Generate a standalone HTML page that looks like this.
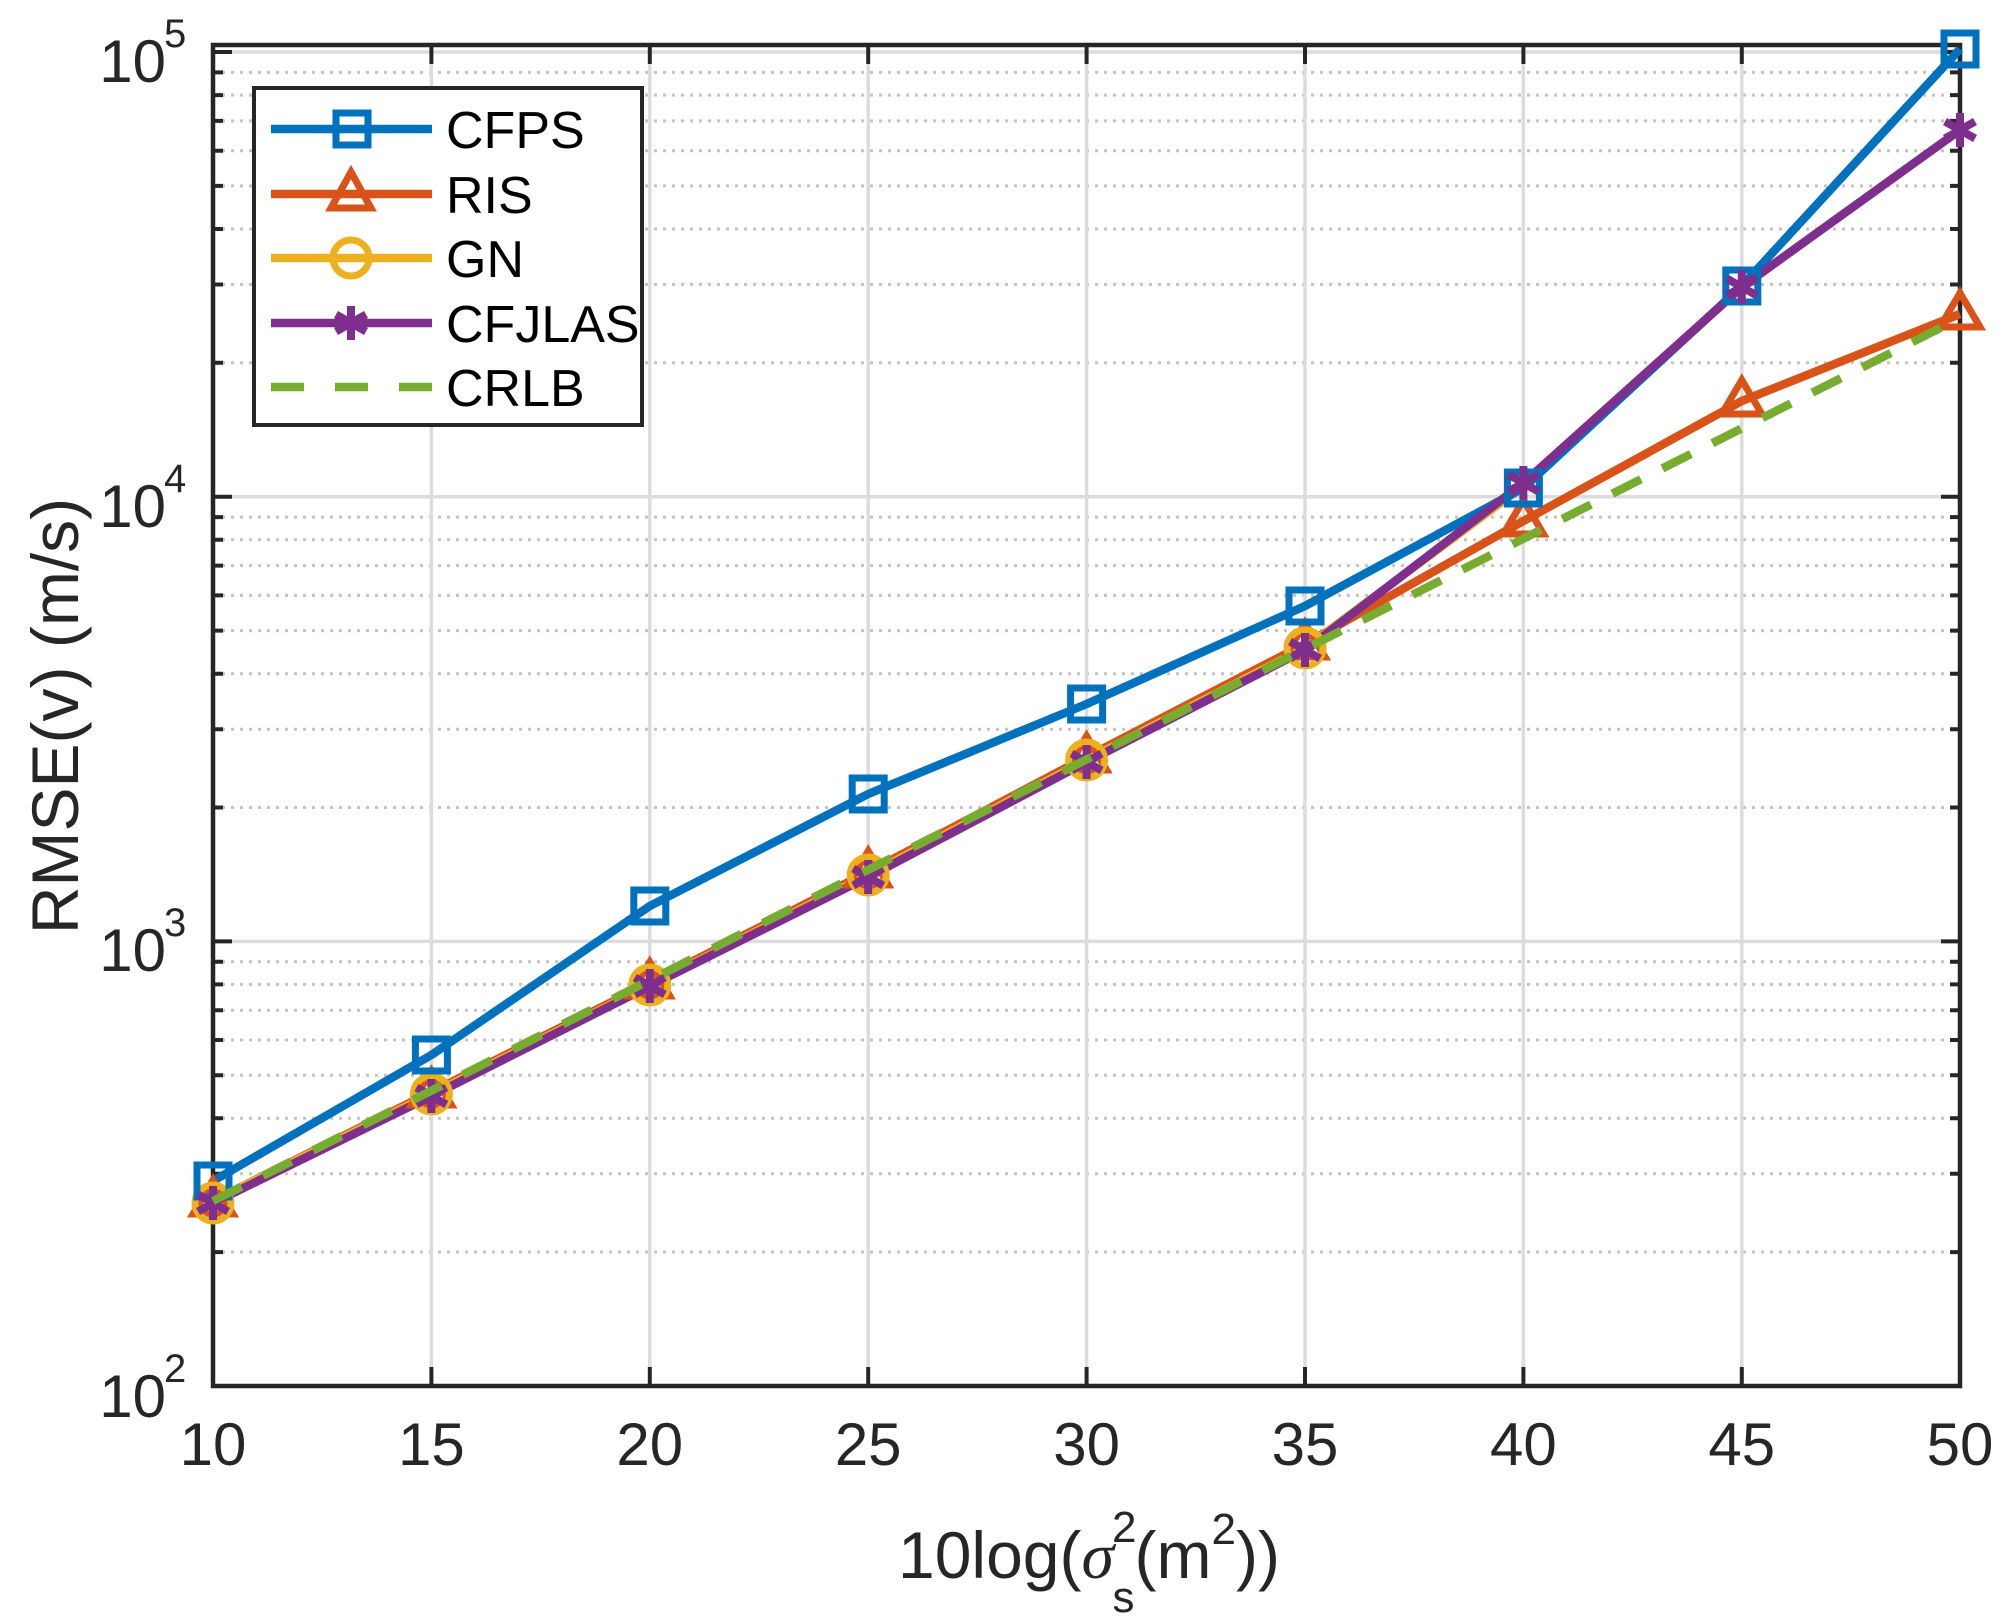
<!DOCTYPE html>
<html><head><meta charset="utf-8"><style>
html,body{margin:0;padding:0;background:#fff;}
svg{display:block;}
text{font-family:"Liberation Sans",Arial,sans-serif;fill:#262626;}
</style></head><body>
<svg width="2012" height="1623" viewBox="0 0 2012 1623" xmlns="http://www.w3.org/2000/svg">
<rect width="2012" height="1623" fill="#fff"/>
<g stroke="#c4c4c4" stroke-width="3" stroke-dasharray="3 6" fill="none">
<path d="M213 362.8H1960M213 284.5H1960M213 229H1960M213 185.9H1960M213 150.7H1960M213 120.9H1960M213 95.1H1960M213 72.4H1960
M213 807.5H1960M213 729.2H1960M213 673.7H1960M213 630.6H1960M213 595.4H1960M213 565.6H1960M213 539.8H1960M213 517.1H1960
M213 1252.1H1960M213 1173.8H1960M213 1118.3H1960M213 1075.2H1960M213 1040H1960M213 1010.2H1960M213 984.4H1960M213 961.7H1960"/>
</g>
<g stroke="#dcdcdc" stroke-width="3.5" fill="none">
<path d="M213 52H1960M213 496.7H1960M213 941.4H1960
M431.4 45V1386M649.8 45V1386M868.2 45V1386M1086.6 45V1386M1305 45V1386M1523.4 45V1386M1741.8 45V1386"/>
</g>
<g stroke="#262626" stroke-width="4" fill="none">
<path d="M213 52h19M213 496.7h19M213 941.4h19M1960 52h-19M1960 496.7h-19M1960 941.4h-19"/>
<path d="M213 362.8h10M213 284.5h10M213 229h10M213 185.9h10M213 150.7h10M213 120.9h10M213 95.1h10M213 72.4h10
M213 807.5h10M213 729.2h10M213 673.7h10M213 630.6h10M213 595.4h10M213 565.6h10M213 539.8h10M213 517.1h10
M213 1252.1h10M213 1173.8h10M213 1118.3h10M213 1075.2h10M213 1040h10M213 1010.2h10M213 984.4h10M213 961.7h10
M1960 362.8h-10M1960 284.5h-10M1960 229h-10M1960 185.9h-10M1960 150.7h-10M1960 120.9h-10M1960 95.1h-10M1960 72.4h-10
M1960 807.5h-10M1960 729.2h-10M1960 673.7h-10M1960 630.6h-10M1960 595.4h-10M1960 565.6h-10M1960 539.8h-10M1960 517.1h-10
M1960 1252.1h-10M1960 1173.8h-10M1960 1118.3h-10M1960 1075.2h-10M1960 1040h-10M1960 1010.2h-10M1960 984.4h-10M1960 961.7h-10"/>
<path d="M431.4 1386v-19M649.8 1386v-19M868.2 1386v-19M1086.6 1386v-19M1305 1386v-19M1523.4 1386v-19M1741.8 1386v-19
M431.4 45v19M649.8 45v19M868.2 45v19M1086.6 45v19M1305 45v19M1523.4 45v19M1741.8 45v19"/>
<rect x="213" y="45" width="1747" height="1341" stroke-width="4.5"/>
</g>
<g fill="none" stroke-width="8.5" stroke-linejoin="round">
<polyline stroke="#D95319" points="213,1201 431.4,1092 649.8,983 868.2,872 1086.6,757 1305,644 1523.4,521 1741.8,401 1960,314"/>
<polyline stroke="#EDB120" points="213,1201 431.4,1094 649.8,985 868.2,875 1086.6,760 1305,648 1523.4,486 1741.8,287 1960,130"/>
<polyline stroke="#0072BD" points="213,1181 431.4,1055 649.8,906 868.2,794 1086.6,704 1305,606 1523.4,488 1741.8,286 1960,49"/>
<polyline stroke="#7E2F8E" points="213,1203 431.4,1096 649.8,986 868.2,877 1086.6,762 1305,650 1523.4,483 1741.8,287 1960,130"/>
</g>
<g fill="none" stroke-width="7">
<g stroke="#D95319">
<path d="M213 1180l20 34h-40zM431.4 1071l20 34h-40zM649.8 962l20 34h-40zM868.2 851l20 34h-40zM1086.6 736l20 34h-40zM1305 623l20 34h-40zM1523.4 500l20 34h-40zM1741.8 380l20 34h-40zM1960 293l20 34h-40z"/>
</g>
<g stroke="#EDB120">
<circle cx="213" cy="1203" r="18"/><circle cx="431.4" cy="1094" r="18"/><circle cx="649.8" cy="985" r="18"/><circle cx="868.2" cy="875" r="18"/><circle cx="1086.6" cy="760" r="18"/><circle cx="1305" cy="648" r="18"/>
</g>
<g stroke="#0072BD">
<rect x="197" y="1165" width="32" height="32"/><rect x="415.4" y="1039" width="32" height="32"/><rect x="633.8" y="890" width="32" height="32"/><rect x="852.2" y="778" width="32" height="32"/><rect x="1070.6" y="688" width="32" height="32"/><rect x="1289" y="590" width="32" height="32"/><rect x="1507.4" y="472" width="32" height="32"/><rect x="1725.8" y="270" width="32" height="32"/><rect x="1944" y="33" width="32" height="32"/>
</g>
<g stroke="#7E2F8E" stroke-width="8">
<path d="M0 -17V17M-15 -8.5L15 8.5M-15 8.5L15 -8.5" transform="translate(213 1203)"/>
<path d="M0 -17V17M-15 -8.5L15 8.5M-15 8.5L15 -8.5" transform="translate(431.4 1096)"/>
<path d="M0 -17V17M-15 -8.5L15 8.5M-15 8.5L15 -8.5" transform="translate(649.8 986)"/>
<path d="M0 -17V17M-15 -8.5L15 8.5M-15 8.5L15 -8.5" transform="translate(868.2 877)"/>
<path d="M0 -17V17M-15 -8.5L15 8.5M-15 8.5L15 -8.5" transform="translate(1086.6 762)"/>
<path d="M0 -17V17M-15 -8.5L15 8.5M-15 8.5L15 -8.5" transform="translate(1305 650)"/>
<path d="M0 -17V17M-15 -8.5L15 8.5M-15 8.5L15 -8.5" transform="translate(1523.4 483)"/>
<path d="M0 -17V17M-15 -8.5L15 8.5M-15 8.5L15 -8.5" transform="translate(1741.8 287)"/>
<path d="M0 -17V17M-15 -8.5L15 8.5M-15 8.5L15 -8.5" transform="translate(1960 130)"/>
</g>
</g>
<line x1="213" y1="1201" x2="1960" y2="318" stroke="#77AC30" stroke-width="8.5" stroke-dasharray="32 24"/>
<rect x="254" y="88" width="388" height="337" fill="#fff" stroke="#262626" stroke-width="4"/>
<g stroke-width="8.5" fill="none">
<line x1="271" y1="129" x2="432" y2="129" stroke="#0072BD"/>
<rect x="336" y="113" width="32" height="32" stroke="#0072BD" stroke-width="7"/>
<line x1="271" y1="194" x2="432" y2="194" stroke="#D95319"/>
<path d="M351 172l20 36h-40z" stroke="#D95319" stroke-width="7"/>
<line x1="271" y1="258" x2="432" y2="258" stroke="#EDB120"/>
<circle cx="351" cy="258" r="18" stroke="#EDB120" stroke-width="7"/>
<line x1="271" y1="323" x2="432" y2="323" stroke="#7E2F8E"/>
<path d="M0 -17V17M-15 -8.5L15 8.5M-15 8.5L15 -8.5" transform="translate(351 323)" stroke="#7E2F8E" stroke-width="8"/>
<line x1="271" y1="387" x2="432" y2="387" stroke="#77AC30" stroke-dasharray="33 31"/>
</g>
<g font-size="52">
<text x="446" y="148" style="fill:#000">CFPS</text>
<text x="446" y="213" style="fill:#000">RIS</text>
<text x="446" y="277" style="fill:#000">GN</text>
<text x="446" y="342" style="fill:#000">CFJLAS</text>
<text x="446" y="406" style="fill:#000">CRLB</text>
</g>
<g font-size="60" text-anchor="end">
<text x="166" y="82">10</text><text x="166" y="527">10</text><text x="166" y="971">10</text><text x="166" y="1417">10</text>
</g>
<g font-size="40">
<text x="164" y="47">5</text><text x="164" y="492">4</text><text x="164" y="936">3</text><text x="164" y="1382">2</text>
</g>
<g font-size="60" text-anchor="middle">
<text x="213" y="1465">10</text><text x="431.4" y="1465">15</text><text x="649.8" y="1465">20</text><text x="868.2" y="1465">25</text><text x="1086.6" y="1465">30</text><text x="1305" y="1465">35</text><text x="1523.4" y="1465">40</text><text x="1741.8" y="1465">45</text><text x="1960" y="1465">50</text>
</g>
<text x="898" y="1578" font-size="66">10log(<tspan font-family="Liberation Serif" font-style="italic">σ</tspan><tspan font-size="44" dy="-36" dx="-2">2</tspan><tspan font-size="44" dx="-24" dy="70">s</tspan><tspan dy="-34">(m</tspan><tspan font-size="44" dy="-34">2</tspan><tspan dy="34">))</tspan></text>
<text transform="translate(78 716) rotate(-90)" font-size="66" text-anchor="middle">RMSE(v) (m/s)</text>
</svg>
</body></html>
